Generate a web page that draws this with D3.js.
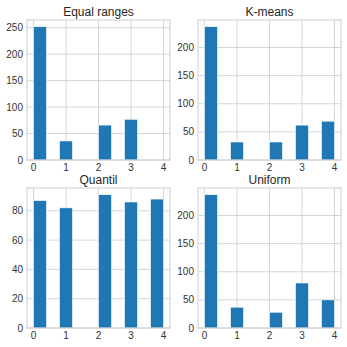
<!DOCTYPE html>
<html lang="en">
<head>
    <meta charset="UTF-8">
    <title>Histograms</title>
    <script src="https://d3js.org/d3.v7.min.js"></script>
    <style>
        body { margin: 0; background: #fff; }
        text { font-family: "Liberation Sans", Arial, sans-serif; }
    </style>
</head>
<body>
    <svg id="chart" width="347" height="347"></svg>
    <script>
        // category values on the x axis
        const categories = [0, 1, 2, 3, 4];
        const xTicks = [0, 1, 2, 3, 4];

        // counts per category, one array per method
        const equalRanges = [252, 36, 66, 77, 0];
        const kMeans = [237, 32, 32, 62, 69];
        const quantil = [87, 82, 91, 86, 88];
        const uniform = [237, 37, 28, 80, 50];

        const titles = ["Equal ranges", "K-means", "Quantil", "Uniform"];
        const yTicksEqual = [0, 50, 100, 150, 200, 250];
        const yTicksKMeans = [0, 50, 100, 150, 200];
        const yTicksQuantil = [0, 20, 40, 60, 80];
        const yTicksUniform = [0, 50, 100, 150, 200];

        const panels = [
            {title: titles[0], counts: equalRanges, ticks: yTicksEqual, left: 27, top: 20},
            {title: titles[1], counts: kMeans, ticks: yTicksKMeans, left: 198, top: 20},
            {title: titles[2], counts: quantil, ticks: yTicksQuantil, left: 27, top: 188},
            {title: titles[3], counts: uniform, ticks: yTicksUniform, left: 198, top: 188}
        ];
        const w = 143, h = 140;

        // 10 equal bins between min and max, like a pandas hist
        const lo = d3.min(categories), hi = d3.max(categories);
        const nBins = 10;
        const binW = (hi - lo) / nBins;
        function binStart(v) {
            let i = Math.floor((v - lo) / binW);
            if (i >= nBins) i = nBins - 1;
            return lo + i * binW;
        }

        const svg = d3.select("#chart");
        const grid = "#cccccc";

        panels.forEach(p => {
            const x = d3.scaleLinear()
                .domain([lo - 0.05 * (hi - lo), hi + 0.05 * (hi - lo)])
                .range([0, w]);
            const y = d3.scaleLinear()
                .domain([0, d3.max(p.counts) * 1.05])
                .range([h, 0]);

            const g = svg.append("g")
                .attr("transform", `translate(${p.left},${p.top})`);

            // grid
            g.selectAll("line.gx").data(xTicks).enter().append("line")
                .attr("x1", d => x(d)).attr("x2", d => x(d))
                .attr("y1", 0).attr("y2", h)
                .attr("stroke", grid).attr("stroke-width", 0.8);
            g.selectAll("line.gy").data(p.ticks).enter().append("line")
                .attr("x1", 0).attr("x2", w)
                .attr("y1", d => y(d)).attr("y2", d => y(d))
                .attr("stroke", grid).attr("stroke-width", 0.8);

            // bars
            g.selectAll("rect.bar").data(categories).enter().append("rect")
                .attr("class", "bar")
                .attr("x", d => x(binStart(d)))
                .attr("width", d => x(binStart(d) + binW) - x(binStart(d)))
                .attr("y", (d, i) => y(p.counts[i]))
                .attr("height", (d, i) => y(0) - y(p.counts[i]))
                .attr("fill", "#1f77b4")
                .attr("stroke", "#ffffff")
                .attr("stroke-width", 0.6);

            // frame
            g.append("rect")
                .attr("width", w).attr("height", h)
                .attr("fill", "none").attr("stroke", grid).attr("stroke-width", 1);

            // tick labels
            g.selectAll("text.xt").data(xTicks).enter().append("text")
                .attr("x", d => x(d)).attr("y", h + 10.5)
                .attr("text-anchor", "middle")
                .attr("font-size", 10).attr("fill", "#333333")
                .text(d => d);
            g.selectAll("text.yt").data(p.ticks).enter().append("text")
                .attr("x", -4).attr("y", d => y(d))
                .attr("dy", "0.35em")
                .attr("text-anchor", "end")
                .attr("font-size", 10).attr("fill", "#333333")
                .text(d => d);

            g.append("text")
                .attr("x", w / 2).attr("y", -4.5)
                .attr("text-anchor", "middle")
                .attr("font-size", 12).attr("fill", "#262626")
                .text(p.title);
        });
    </script>
</body>
</html>
